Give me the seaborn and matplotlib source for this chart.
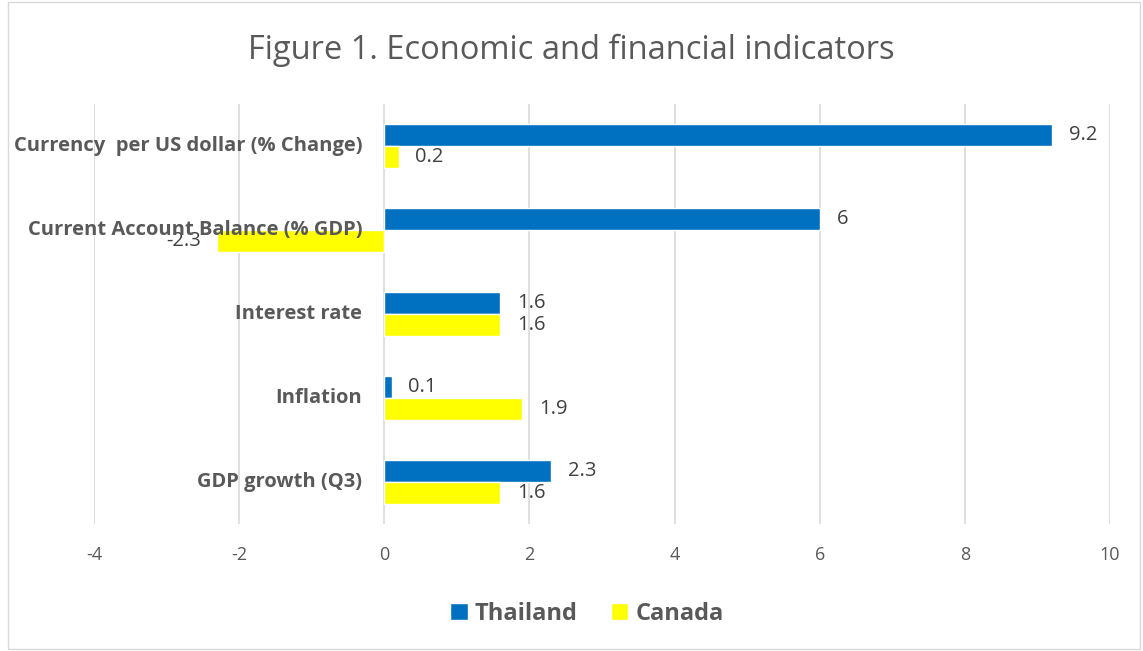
import pandas as pd
import matplotlib.pyplot as plt
import seaborn as sns

categories = ['Currency  per US dollar (% Change)', 'Current Account Balance (% GDP)',
              'Interest rate', 'Inflation', 'GDP growth (Q3)']
thailand = [9.2, 6, 1.6, 0.1, 2.3]
canada = [0.2, -2.3, 1.6, 1.9, 1.6]
x_ticks = [-4, -2, 0, 2, 4, 6, 8, 10]

df = pd.DataFrame({
    'Indicator': categories * 2,
    'Value': thailand + canada,
    'Country': ['Thailand'] * len(categories) + ['Canada'] * len(categories),
})

sns.set_style("white")
plt.rcParams['font.family'] = ['Open Sans', 'DejaVu Sans']
gray = '#595959'

fig = plt.figure(figsize=(11.43, 6.51), dpi=100)
ax = fig.add_axes([0.0822, 0.195, 0.889, 0.645])

sns.barplot(data=df, x='Value', y='Indicator', hue='Country', orient='h',
            palette={'Thailand': '#0070C0', 'Canada': '#FFFF00'},
            width=0.524, saturation=1, ax=ax, legend=True)

for cont in ax.containers:
    labels = ['%g' % v for v in cont.datavalues]
    ax.bar_label(cont, labels=labels, padding=12, fontsize=14.5, color='#404040')

ax.set_xlim(-4, 10)
ax.set_xticks(x_ticks)
ax.set_xticklabels([str(t) for t in x_ticks], fontsize=13, color=gray)
ax.tick_params(axis='x', length=0, pad=16)
ax.set_yticks([])
ax.set_xlabel('')
ax.set_ylabel('')
ax.grid(axis='x', color='#D9D9D9', linewidth=1.2)
ax.set_axisbelow(True)
for s in ax.spines.values():
    s.set_visible(False)

for i, cat in enumerate(categories):
    ax.annotate(cat, xy=(0, i), xytext=(-16, 0), textcoords='offset points',
                ha='right', va='center', fontsize=14.5, fontweight='bold', color=gray)

leg = ax.legend(loc='upper center', bbox_to_anchor=(0.485, -0.135), ncol=2, frameon=False,
                handlelength=0.75, handleheight=0.75, handletextpad=0.3, columnspacing=1.4,
                prop={'size': 17, 'weight': 'bold'})
for t in leg.get_texts():
    t.set_color(gray)

fig.suptitle('Figure 1. Economic and financial indicators', y=0.948, fontsize=23.5, color=gray)

border = plt.Rectangle((0.007, 0.003), 0.99, 0.994, transform=fig.transFigure,
                       fill=False, edgecolor='#D9D9D9', linewidth=1)
fig.patches.append(border)

plt.savefig('out.png', dpi=100)
